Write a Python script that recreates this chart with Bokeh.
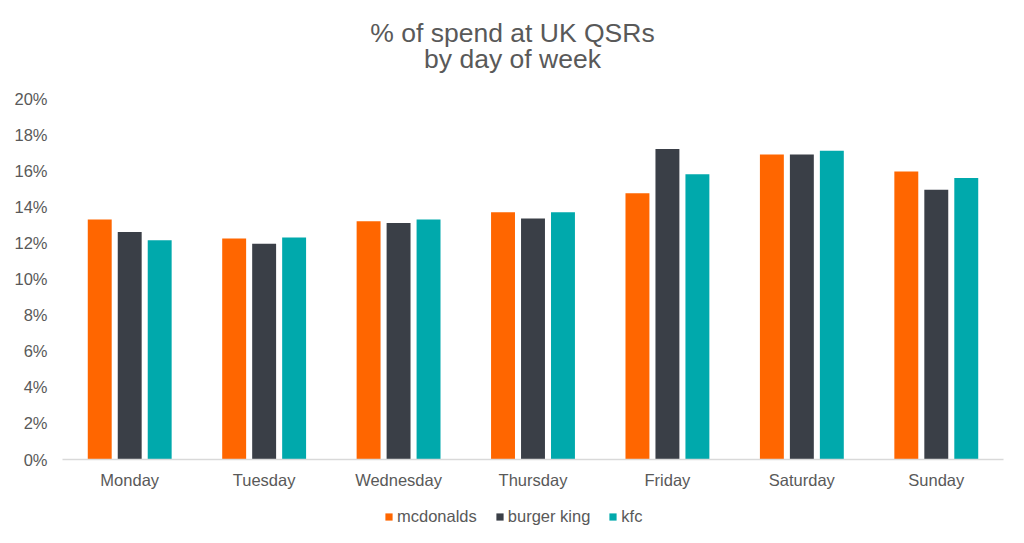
from bokeh.plotting import figure
from bokeh.layouts import column
from bokeh.models import ColumnDataSource, FactorRange, Legend, LegendItem, PrintfTickFormatter, FixedTicker
from bokeh.core.properties import value
from bokeh.transform import dodge
from bokeh.embed import file_html
from bokeh.resources import INLINE

# data (% of weekly spend)
days = ["Monday", "Tuesday", "Wednesday", "Thursday", "Friday", "Saturday", "Sunday"]
mcdonalds = [13.3, 12.25, 13.2, 13.7, 14.75, 16.9, 15.95]
burger_king = [12.6, 11.95, 13.1, 13.35, 17.2, 16.9, 14.95]
kfc = [12.15, 12.3, 13.3, 13.7, 15.8, 17.1, 15.6]
brands = ["mcdonalds", "burger king", "kfc"]
colors = ["#FF6600", "#3A3F47", "#00A9AC"]
title_lines = ["% of spend at UK QSRs", "by day of week"]

source = ColumnDataSource(dict(day=days, mcdonalds=mcdonalds, bk=burger_king, kfc=kfc))

font = "Liberation Sans"
grey = "#595959"
W = 1008
TOP = 88

# title strip: its frame is aligned with the chart frame (62..1003 px), y in px from bottom
tt = figure(width=W, height=TOP, output_backend="svg", toolbar_location=None,
            x_range=(62, 1003), y_range=(0, TOP), min_border=0,
            x_axis_type=None, y_axis_type=None)
tt.grid.visible = False
tt.outline_line_color = None
tt.text(x=[512, 512], y=[TOP - 32.5, TOP - 58], text=title_lines,
        text_align="center", text_baseline="alphabetic",
        text_font=value(font), text_font_size="26.5px", text_color=grey)

p = figure(x_range=FactorRange(*days), y_range=(0, 20), width=W, height=495 - TOP,
           output_backend="svg", toolbar_location=None,
           min_border_left=62, min_border_right=W - 1003, min_border_top=98 - TOP, min_border_bottom=36)

for col, off, c in zip(["mcdonalds", "bk", "kfc"], [-0.223, 0, 0.223], colors):
    p.vbar(x=dodge("day", off, range=p.x_range), top=col, width=0.178, source=source,
           fill_color=c, line_color=None)

p.xgrid.grid_line_color = None
p.ygrid.grid_line_color = None
p.outline_line_color = None

p.yaxis.ticker = FixedTicker(ticks=list(range(0, 21, 2)))
p.yaxis.formatter = PrintfTickFormatter(format="%d%%")
p.yaxis.axis_line_color = None
p.yaxis.major_tick_line_color = None
p.yaxis.minor_tick_line_color = None
p.yaxis.major_tick_out = 0
p.yaxis.major_label_standoff = 15

p.xaxis.axis_line_color = "#d9d9d9"
p.xaxis.axis_line_width = 1.5
p.xaxis.major_tick_line_color = None
p.xaxis.major_tick_out = 0
p.xaxis.major_label_standoff = 11

for ax in (p.xaxis, p.yaxis):
    ax.major_label_text_font = font
    ax.major_label_text_font_size = "16.5px"
    ax.major_label_text_color = grey

# legend strip under the chart (its bars sit outside the visible range)
lg = figure(width=W, height=32, output_backend="svg", toolbar_location=None,
            x_range=(0, 1), y_range=(0, 1), min_border=0,
            x_axis_type=None, y_axis_type=None)
lg.grid.visible = False
lg.outline_line_color = None
hidden = ColumnDataSource(dict(x=[-5], top=[-5]))
rs = [lg.vbar(x="x", top="top", bottom=-6, width=0.1, source=hidden, fill_color=c, line_color=None)
      for c in colors]
legend = Legend(items=[LegendItem(label=b, renderers=[r]) for b, r in zip(brands, rs)],
                orientation="horizontal", location=(322, 1),
                glyph_width=9, glyph_height=9, label_text_font=font, label_text_font_size="16.5px",
                label_text_color=grey, spacing=18, label_standoff=4, border_line_color=None,
                background_fill_alpha=0, padding=2, margin=0)
lg.add_layout(legend)

open("out.html", "w").write(file_html(column(tt, p, lg, spacing=0), INLINE))
